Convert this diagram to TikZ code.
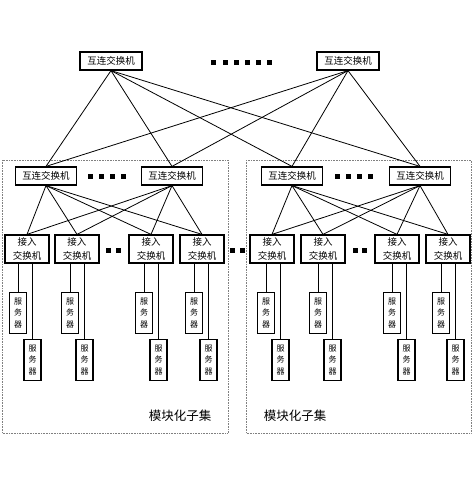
\documentclass[tikz,border=0pt]{standalone}
\usepackage{fontspec}
\newfontfamily\cjk{Noto Sans CJK SC}
\usetikzlibrary{positioning}

\tikzset{
  core/.style={draw,line width=1.2pt,minimum width=62pt,minimum height=18pt,inner sep=0pt,font=\cjk\fontsize{9.5}{10}\selectfont},
  agg/.style={core,minimum width=61pt},
  acc/.style={draw,line width=1.2pt,minimum width=44pt,minimum height=28pt,inner sep=0pt,align=center,font=\cjk\fontsize{9.5}{13.5}\selectfont},
  srv/.style={draw,line width=1.2pt,minimum width=17pt,minimum height=41pt,inner sep=0pt,align=center,font=\cjk\fontsize{8}{11.5}\selectfont},
  sq/.style={fill,minimum size=5pt,inner sep=0pt},
  module/.style={densely dotted,line width=0.6pt,gray},
  link/.style={line width=0.8pt}
}

\begin{document}
\begin{tikzpicture}[x=1pt,y=-1pt]
\useasboundingbox[fill=white] (0,0) rectangle (473,477);

% module boxes
  \draw[module] (2,160) rectangle (228,433);
  \draw[module] (246,160) rectangle (471,433);
  \node[font=\cjk\fontsize{12.5}{14}\selectfont] (labL) at (180,416) {模块化子集};
  \node[font=\cjk\fontsize{12.5}{14}\selectfont] (labR) at (295,416) {模块化子集};

% define the core switches
  \node[core] (c1) at (111,61) {互连交换机};
  \node[core] (c2) at (348,61) {互连交换机};
  \foreach \x [count=\i] in {213,225,236,247,258,269}
    \node[sq] (cd\i) at (\x,62) {};

% define the aggregation switches
  \node[agg] (l1) at (46,176) {互连交换机};
  \node[agg] (l2) at (172,176) {互连交换机};
  \node[agg] (r1) at (292,176) {互连交换机};
  \node[agg] (r2) at (420,176) {互连交换机};
  \foreach \x [count=\i] in {90,101,112,123}
    \node[sq] (ld\i) at (\x,176) {};
  \foreach \x [count=\i] in {337,348,359,370}
    \node[sq] (rd\i) at (\x,176) {};

% define the access switches
  \node[acc] (a1) at (27,249) {接入\\交换机};
  \node[acc] (a2) at (77,249) {接入\\交换机};
  \node[acc] (a3) at (151,249) {接入\\交换机};
  \node[acc] (a4) at (202,249) {接入\\交换机};
  \node[acc] (b1) at (272,249) {接入\\交换机};
  \node[acc] (b2) at (323,249) {接入\\交换机};
  \node[acc] (b3) at (397,249) {接入\\交换机};
  \node[acc] (b4) at (448,249) {接入\\交换机};
  \node[sq] (ad1) at (108,250) {};
  \node[sq] (ad2) at (118,250) {};
  \node[sq] (md1) at (232,250) {};
  \node[sq] (md2) at (242,250) {};
  \node[sq] (bd1) at (355,250) {};
  \node[sq] (bd2) at (364,250) {};

% define the servers
  \foreach \n/\x in {a1/18,a2/70,a3/144,a4/194,b1/266,b2/318,b3/392,b4/441}{
    \node[srv] (\n s1) at (\x,313) {服\\务\\器};
    \node[srv] (\n s2) at (\x+14.5,360) {服\\务\\器};
    \draw[link] (\n s1.north) -- (\n s1.north |- \n.south);
    \draw[link] (\n s2.north) -- (\n s2.north |- \n.south);
  }

% define the links
  \foreach \c in {c1,c2}
    \foreach \g in {l1,l2,r1,r2}
      \draw[link] (\c.south) -- (\g.north);
  \foreach \g in {l1,l2}
    \foreach \a in {a1,a2,a3,a4}
      \draw[link] (\g.south) -- (\a.north);
  \foreach \g in {r1,r2}
    \foreach \a in {b1,b2,b3,b4}
      \draw[link] (\g.south) -- (\a.north);

\end{tikzpicture}
\end{document}
